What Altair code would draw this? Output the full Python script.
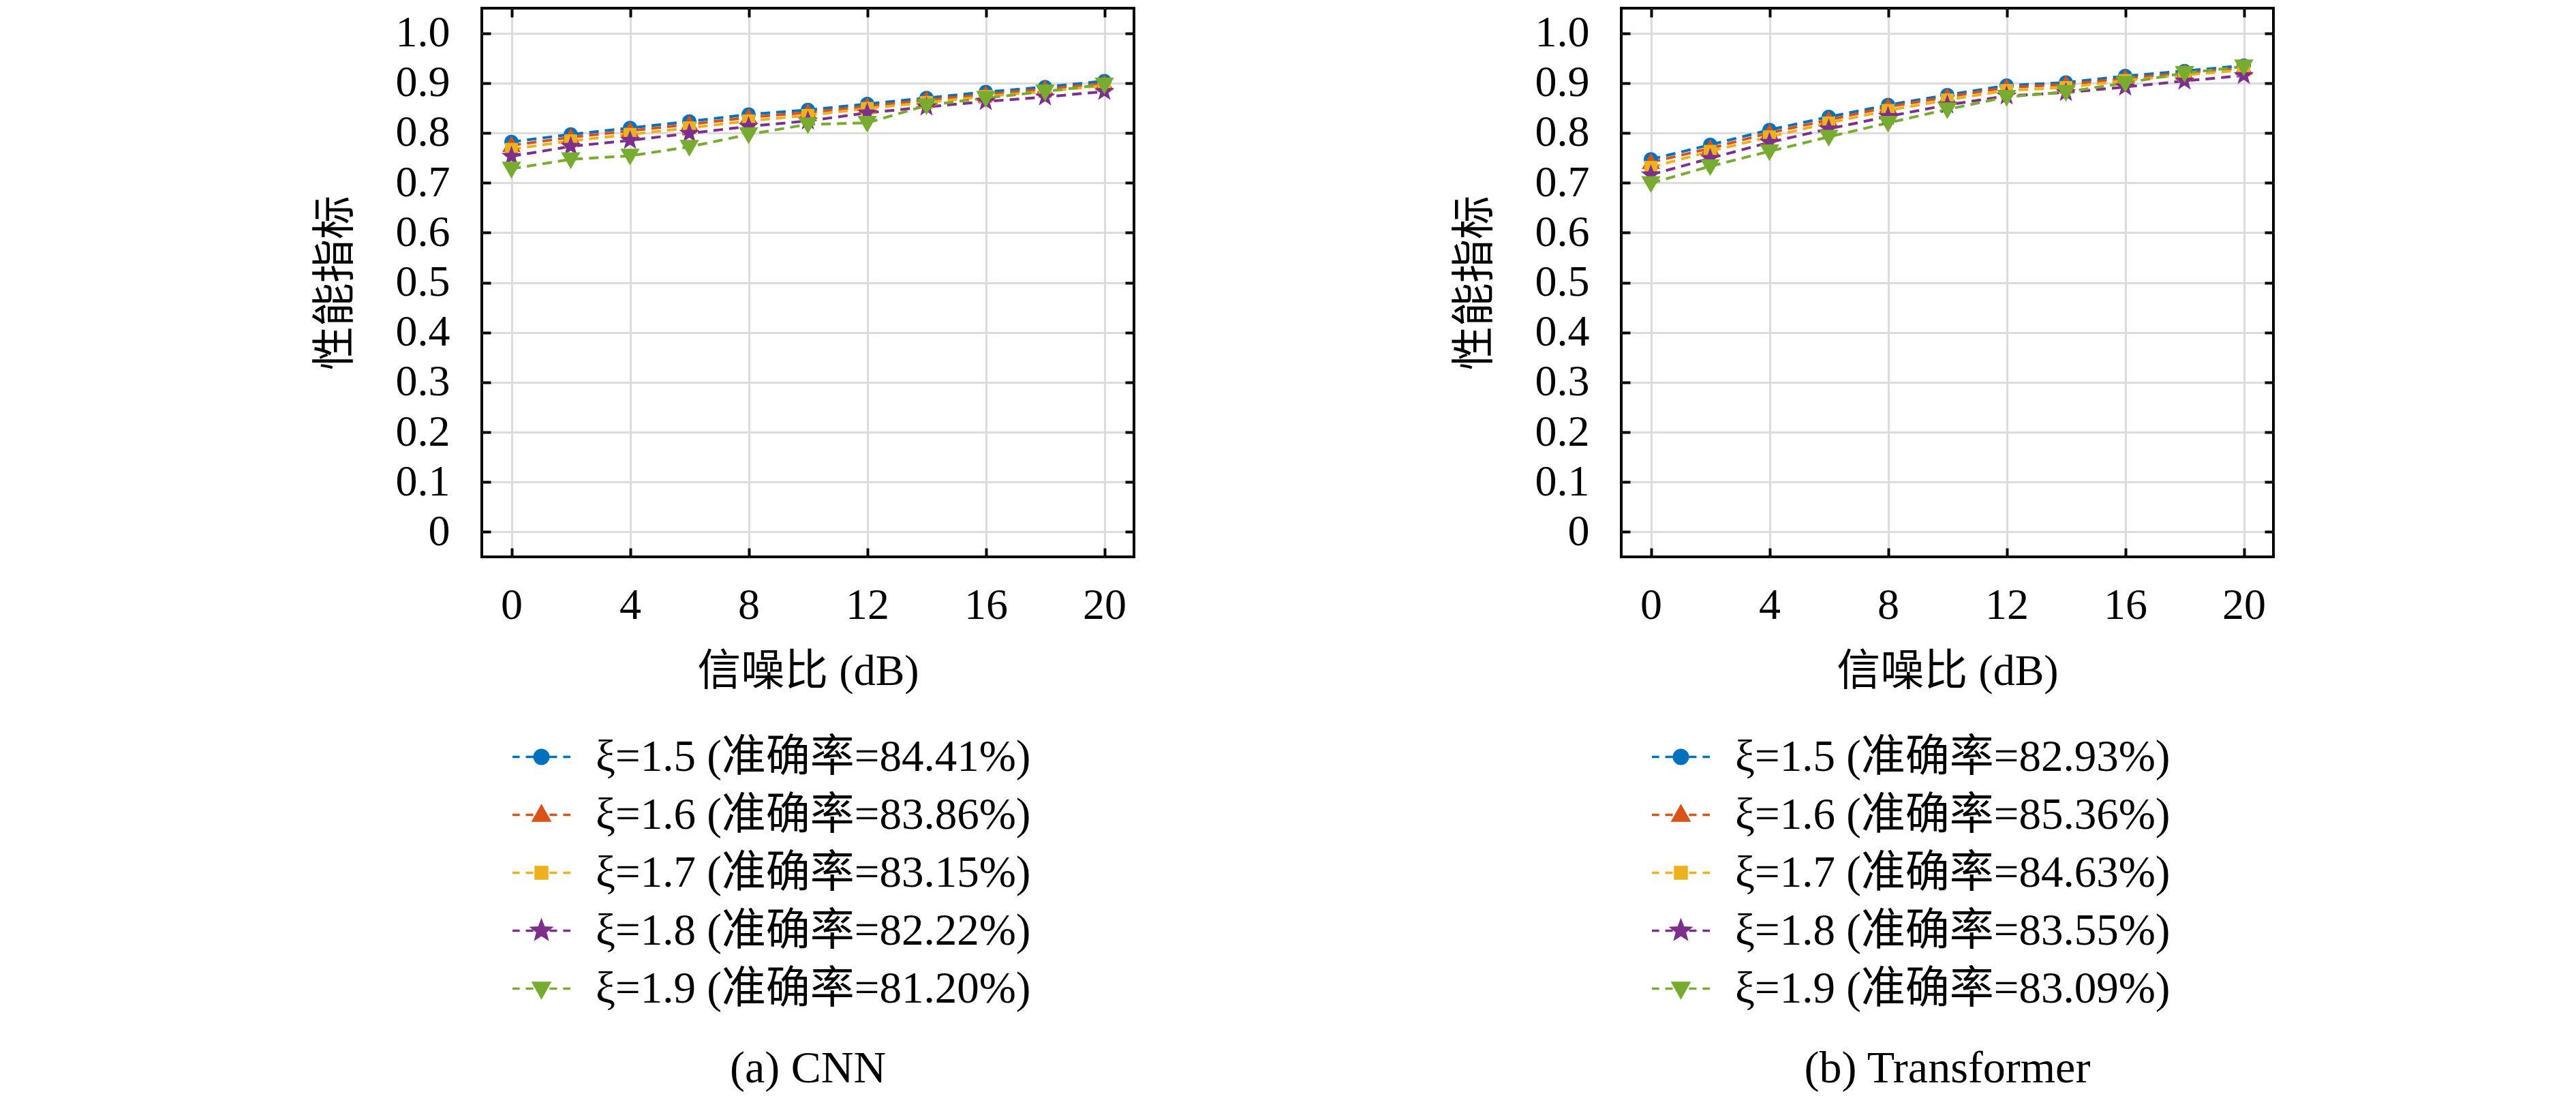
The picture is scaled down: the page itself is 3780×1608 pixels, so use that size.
import math
import altair as alt
import pandas as pd

# ---------------- data ----------------
snr_db = [0, 2, 4, 6, 8, 10, 12, 14, 16, 18, 20]
x_ticks = [0, 4, 8, 12, 16, 20]
y_ticks = [0.0, 0.1, 0.2, 0.3, 0.4, 0.5, 0.6, 0.7, 0.8, 0.9, 1.0]
xi_values = ["1.5", "1.6", "1.7", "1.8", "1.9"]

cnn_accuracy = ["84.41", "83.86", "83.15", "82.22", "81.20"]
transformer_accuracy = ["82.93", "85.36", "84.63", "83.55", "83.09"]

cnn_xi15 = [0.782, 0.797, 0.810, 0.823, 0.837, 0.846, 0.858, 0.870, 0.882, 0.892, 0.904]
cnn_xi16 = [0.775, 0.791, 0.804, 0.817, 0.831, 0.841, 0.853, 0.866, 0.877, 0.888, 0.899]
cnn_xi17 = [0.767, 0.784, 0.797, 0.810, 0.824, 0.835, 0.849, 0.861, 0.873, 0.883, 0.895]
cnn_xi18 = [0.753, 0.773, 0.785, 0.799, 0.813, 0.824, 0.840, 0.852, 0.863, 0.872, 0.883]
cnn_xi19 = [0.728, 0.747, 0.754, 0.772, 0.797, 0.817, 0.820, 0.855, 0.870, 0.883, 0.897]

tr_xi15 = [0.747, 0.776, 0.806, 0.832, 0.856, 0.876, 0.895, 0.901, 0.914, 0.924, 0.935]
tr_xi16 = [0.741, 0.769, 0.800, 0.826, 0.852, 0.872, 0.891, 0.897, 0.909, 0.920, 0.930]
tr_xi17 = [0.731, 0.763, 0.792, 0.820, 0.845, 0.866, 0.885, 0.891, 0.905, 0.916, 0.926]
tr_xi18 = [0.716, 0.749, 0.781, 0.808, 0.833, 0.856, 0.874, 0.881, 0.892, 0.904, 0.915]
tr_xi19 = [0.699, 0.733, 0.763, 0.792, 0.820, 0.847, 0.872, 0.882, 0.900, 0.920, 0.933]

colors = ["#0072BD", "#D95319", "#EDB120", "#7E2F8E", "#77AC30"]

# ---------------- marker shapes (unit box -1..1) ----------------
def f(v):
    return f"{v:.3f}"


def circle_path(r):
    return f"M{f(r)},0A{f(r)},{f(r)},0,1,1,{f(-r)},0A{f(r)},{f(r)},0,1,1,{f(r)},0Z"


def tri_up_path(w, top, bot):
    return f"M0,{f(-top)}L{f(w)},{f(bot)}L{f(-w)},{f(bot)}Z"


def tri_down_path(w, top, bot):
    return f"M0,{f(top)}L{f(w)},{f(-bot)}L{f(-w)},{f(-bot)}Z"


def square_path(h):
    return f"M{f(-h)},{f(-h)}H{f(h)}V{f(h)}H{f(-h)}Z"


def star_path(R, r):
    pts = []
    for k in range(10):
        ang = -math.pi / 2 + k * math.pi / 5
        rad = R if k % 2 == 0 else r
        pts.append((rad * math.cos(ang), rad * math.sin(ang)))
    return "M" + "L".join(f"{f(px)},{f(py)}" for px, py in pts) + "Z"


plot_shapes = [
    circle_path(0.66),
    tri_up_path(0.85, 0.85, 0.62),
    square_path(0.6),
    star_path(0.98, 0.40),
    tri_down_path(0.9, 0.9, 0.65),
]

dashes = "M-1,0H-0.75M-0.54,0H-0.28M0.28,0H0.54M0.75,0H1"
legend_shapes = [
    dashes + circle_path(0.24),
    dashes + tri_up_path(0.28, 0.30, 0.20),
    dashes + square_path(0.2),
    dashes + star_path(0.33, 0.14),
    dashes + tri_down_path(0.28, 0.30, 0.20),
]

SERIF = "Liberation Serif, Noto Sans CJK SC"
W, H = 957, 805
TICK = 13
LEG_SIZE = 7225


def panel(series, accuracy, caption):
    labels = [f"ξ={x} (准确率={a}%)" for x, a in zip(xi_values, accuracy)]
    rows = []
    for i, (lab, vals) in enumerate(zip(labels, series)):
        for s, v in zip(snr_db, vals):
            rows.append({"snr": s, "value": v, "label": lab, "idx": i})
    df = pd.DataFrame(rows)
    base = alt.Chart(df)

    xscale = alt.Scale(domain=[-1, 21], nice=False, zero=False)
    yscale = alt.Scale(domain=[-0.05, 1.05], nice=False, zero=False)

    layers = []
    lines = base.mark_line(strokeWidth=4, strokeDash=[14, 9]).encode(
        x=alt.X("snr:Q", scale=xscale, axis=alt.Axis(
            orient="bottom", values=x_ticks, format="d", title="信噪比 (dB)",
            grid=True, offset=-TICK, tickSize=TICK, labelPadding=39, titlePadding=33)),
        y=alt.Y("value:Q", scale=yscale, axis=alt.Axis(
            orient="left", values=y_ticks, title="性能指标",
            labelExpr="datum.value == 0 ? '0' : format(datum.value, '.1f')",
            grid=True, offset=-TICK, tickSize=TICK, labelPadding=47, titlePadding=56)),
        color=alt.Color("label:N", scale=alt.Scale(domain=labels, range=colors), legend=None),
        detail="idx:O",
    )
    layers.append(lines)

    for i in range(len(labels)):
        if i == 0:
            xa = alt.Axis(orient="top", values=x_ticks, labels=False, title=None,
                          grid=False, offset=-TICK, tickSize=TICK)
            ya = alt.Axis(orient="right", values=y_ticks, labels=False, title=None,
                          grid=False, offset=-TICK, tickSize=TICK)
        else:
            xa = None
            ya = None
        pts = base.transform_filter(alt.datum.idx == i).mark_point(
            filled=True, opacity=1, size=1000, shape=plot_shapes[i], color=colors[i]
        ).encode(
            x=alt.X("snr:Q", scale=xscale, axis=xa),
            y=alt.Y("value:Q", scale=yscale, axis=ya),
        )
        layers.append(pts)

    leg = alt.Legend(
        title=None, orient="none", legendX=43, legendY=1054, direction="vertical",
        symbolSize=LEG_SIZE, symbolStrokeWidth=3.5, symbolOpacity=1,
        symbolFillColor="black", symbolStrokeColor="black",
        labelFont=SERIF, labelFontSize=65, labelColor="black", labelOffset=35,
        labelLimit=3000, rowPadding=7, padding=0,
    )
    legend_layer = base.transform_filter("false").mark_point(filled=True, opacity=1).encode(
        x=alt.X("snr:Q", scale=xscale, axis=None),
        y=alt.Y("value:Q", scale=yscale, axis=None),
        fill=alt.Fill("label:N", scale=alt.Scale(domain=labels, range=colors), legend=leg),
        stroke=alt.Stroke("label:N", scale=alt.Scale(domain=labels, range=colors), legend=leg),
        shape=alt.Shape("label:N", scale=alt.Scale(domain=labels, range=legend_shapes), legend=leg),
    )
    layers.append(legend_layer)

    return (
        alt.layer(*layers)
        .resolve_scale(fill="independent", stroke="independent", shape="independent")
        .resolve_axis(x="independent", y="independent")
        .properties(
            width=W, height=H,
            title=alt.TitleParams(caption, orient="bottom", frame="group", anchor="middle",
                                  offset=52, font=SERIF, fontSize=66,
                                  fontWeight="normal", color="black"),
        )
    )


left = panel([cnn_xi15, cnn_xi16, cnn_xi17, cnn_xi18, cnn_xi19], cnn_accuracy, "(a) CNN")
right = panel([tr_xi15, tr_xi16, tr_xi17, tr_xi18, tr_xi19], transformer_accuracy, "(b) Transformer")

chart = (
    alt.hconcat(left, right, spacing=462)
    .resolve_scale(color="independent", fill="independent", stroke="independent", shape="independent")
    .properties(padding={"left": 450, "top": 0, "right": 0, "bottom": 0}, background="white")
    .configure_view(stroke="black", strokeWidth=4)
    .configure_axis(
        domain=False, tickColor="black", tickWidth=4,
        gridColor="#dcdcdc", gridWidth=3,
        labelFont=SERIF, labelFontSize=64, labelColor="black",
        titleFont=SERIF, titleFontSize=64, titleFontWeight="normal", titleColor="black",
    )
)

chart.save("out.html", embed_options={"renderer": "svg", "actions": False})
